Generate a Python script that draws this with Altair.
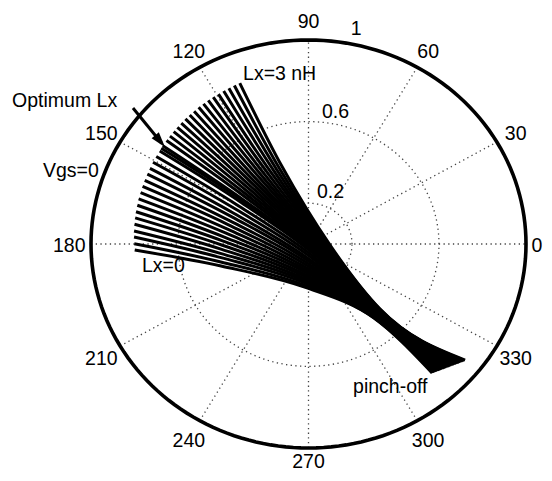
import altair as alt
import pandas as pd

# ---------------- data: reflection coefficient (re, im) traces, one per Lx step
# (Lx = 0 first, Lx = 3 nH last); points: Vgs=0 end, two mid points, waist, pinch-off end
s_re = [-0.799,-0.801,-0.802,-0.802,-0.800,-0.797,-0.793,-0.787,-0.781,-0.772,-0.763,-0.753,-0.741,-0.729,-0.715,-0.700,-0.684,-0.677,-0.670,-0.653,-0.637,-0.620,-0.603,-0.585,-0.566,-0.546,-0.526,-0.505,-0.483,-0.461,-0.438,-0.414,-0.390,-0.366,-0.341,-0.316]
s_im = [-0.029,0.001,0.034,0.064,0.097,0.128,0.158,0.190,0.221,0.252,0.282,0.312,0.343,0.371,0.401,0.429,0.456,0.469,0.482,0.507,0.529,0.551,0.572,0.593,0.613,0.632,0.651,0.670,0.687,0.704,0.720,0.735,0.750,0.764,0.777,0.789]
a_re = [-0.402,-0.403,-0.402,-0.401,-0.399,-0.396,-0.392,-0.387,-0.382,-0.375,-0.368,-0.361,-0.352,-0.344,-0.334,-0.323,-0.311,-0.306,-0.304,-0.295,-0.287,-0.278,-0.269,-0.260,-0.250,-0.240,-0.230,-0.219,-0.208,-0.197,-0.185,-0.173,-0.160,-0.148,-0.136,-0.123]
a_im = [-0.108,-0.088,-0.067,-0.047,-0.026,-0.006,0.014,0.034,0.054,0.074,0.094,0.113,0.133,0.151,0.170,0.188,0.205,0.214,0.220,0.233,0.244,0.255,0.266,0.277,0.287,0.297,0.307,0.317,0.326,0.335,0.344,0.352,0.360,0.368,0.375,0.382]
b_re = [-0.014,-0.013,-0.011,-0.010,-0.008,-0.005,-0.002,0.001,0.004,0.008,0.012,0.017,0.022,0.026,0.032,0.038,0.044,0.047,0.047,0.050,0.053,0.055,0.058,0.061,0.064,0.067,0.070,0.073,0.076,0.079,0.083,0.087,0.090,0.093,0.097,0.100]
b_im = [-0.213,-0.204,-0.193,-0.184,-0.175,-0.165,-0.156,-0.146,-0.137,-0.128,-0.118,-0.109,-0.100,-0.092,-0.082,-0.074,-0.066,-0.062,-0.061,-0.057,-0.054,-0.051,-0.047,-0.044,-0.040,-0.038,-0.034,-0.031,-0.028,-0.025,-0.021,-0.019,-0.016,-0.013,-0.010,-0.007]
w_re = [0.301,0.302,0.303,0.303,0.304,0.305,0.306,0.307,0.307,0.308,0.309,0.310,0.311,0.311,0.312,0.313,0.314,0.315,0.315,0.316,0.317,0.318,0.319,0.319,0.320,0.321,0.322,0.323,0.323,0.324,0.325,0.326,0.327,0.327,0.328,0.329]
w_im = [-0.363,-0.362,-0.360,-0.359,-0.358,-0.357,-0.355,-0.354,-0.353,-0.352,-0.350,-0.349,-0.348,-0.347,-0.345,-0.344,-0.343,-0.342,-0.340,-0.339,-0.338,-0.337,-0.335,-0.334,-0.333,-0.332,-0.330,-0.329,-0.328,-0.327,-0.325,-0.324,-0.323,-0.322,-0.320,-0.319]
e_re = [0.568,0.572,0.577,0.581,0.585,0.590,0.594,0.598,0.603,0.607,0.611,0.616,0.620,0.624,0.629,0.633,0.637,0.642,0.646,0.651,0.655,0.659,0.664,0.668,0.672,0.677,0.681,0.685,0.690,0.694,0.698,0.703,0.707,0.711,0.716,0.720]
e_im = [-0.632,-0.630,-0.628,-0.627,-0.625,-0.623,-0.621,-0.619,-0.618,-0.616,-0.614,-0.612,-0.610,-0.609,-0.607,-0.605,-0.603,-0.601,-0.600,-0.598,-0.596,-0.594,-0.592,-0.591,-0.589,-0.587,-0.585,-0.583,-0.582,-0.580,-0.578,-0.576,-0.574,-0.573,-0.571,-0.569]

# polar grid ticks
ring_r = [0.2, 0.6]
spoke_deg = [0, 30, 60, 90, 120, 150]
angle_deg = [0, 30, 60, 90, 120, 150, 180, 210, 240, 270, 300, 330]
angle_txt = [str(a) for a in angle_deg]
rtick_txt = ["0.2", "0.6", "1"]

# annotations
notes_txt = ["Optimum Lx", "Vgs=0", "Lx=3 nH", "Lx=0", "pinch-off"]

# ---------------- build tables
rows = []
pts = [(s_re, s_im), (a_re, a_im), (b_re, b_im), (w_re, w_im), (e_re, e_im)]
for k in range(len(s_re)):
    for j, (xr, xi) in enumerate(pts):
        rows.append({"lx": k, "o": j, "re": xr[k], "im": xi[k]})
curves = pd.DataFrame(rows)

XS = alt.Scale(domain=[-1.38161, 1.08276], nice=False, zero=False)
YS = alt.Scale(domain=[-1.12255, 1.15686], nice=False, zero=False)
FONT = "Liberation Sans"
FS = 19.5


def X(f):
    return alt.X(f, scale=XS, axis=None)


def Y(f):
    return alt.Y(f, scale=YS, axis=None)


def ring(r, dash=None, width=1.3, color="#444"):
    kw = dict(strokeWidth=width, color=color)
    if dash:
        kw["strokeDash"] = dash
    return (
        alt.Chart(alt.sequence(0, 361, 2, as_="deg"))
        .transform_calculate(
            x=f"{r}*cos(datum.deg*PI/180)", y=f"{r}*sin(datum.deg*PI/180)"
        )
        .mark_line(**kw)
        .encode(x=X("x:Q"), y=Y("y:Q"), order="deg:Q")
    )


layers = [ring(r, dash=[1.3, 3.4]) for r in ring_r]

spokes = (
    alt.Chart(pd.DataFrame({"a": spoke_deg}))
    .transform_calculate(
        x="-cos(datum.a*PI/180)", x2="cos(datum.a*PI/180)",
        y="-sin(datum.a*PI/180)", y2="sin(datum.a*PI/180)",
    )
    .mark_rule(strokeDash=[1.3, 3.4], strokeWidth=1.3, color="#444")
    .encode(x=X("x:Q"), x2="x2:Q", y=Y("y:Q"), y2="y2:Q")
)
layers.append(spokes)
layers.append(ring(1.0, width=3.6, color="black"))

traces = (
    alt.Chart(curves)
    .mark_line(interpolate="monotone", strokeWidth=3.0, color="black", strokeCap="butt")
    .encode(x=X("re:Q"), y=Y("im:Q"), detail="lx:N", order="o:Q")
)
layers.append(traces)

# arrow pointing at optimum Lx trace
arrow = (
    alt.Chart(pd.DataFrame({"re": [-0.807, -0.675], "im": [0.667, 0.494]}))
    .mark_line(strokeWidth=3, color="black")
    .encode(x=X("re:Q"), y=Y("im:Q"))
)
head = (
    alt.Chart(pd.DataFrame({"re": [-0.682], "im": [0.504]}))
    .mark_point(shape="M-0.6,1L0,-1L0.6,1Z", size=240, angle=140.5,
                filled=True, color="black", opacity=1)
    .encode(x=X("re:Q"), y=Y("im:Q"))
)
layers += [arrow, head]

# angle labels (label radius per label; 0 and 270 are kept inside the page edge)
label_r = [1.05, 1.1, 1.1, 1.1, 1.1, 1.1, 1.1, 1.1, 1.1, 1.055, 1.1, 1.1]
alab = (
    alt.Chart(pd.DataFrame({"a": angle_deg, "t": angle_txt, "r": label_r}))
    .transform_calculate(x="datum.r*cos(datum.a*PI/180)", y="datum.r*sin(datum.a*PI/180)")
    .mark_text(font=FONT, fontSize=FS, align="center", baseline="alphabetic", dy=8.5, color="black")
    .encode(x=X("x:Q"), y=Y("y:Q"), text="t:N")
)
layers.append(alab)

# radial labels
rlab = (
    alt.Chart(pd.DataFrame({"t": rtick_txt, "x": [0.039, 0.062, 0.194], "y": [0.224, 0.618, 1.025]}))
    .mark_text(font=FONT, fontSize=FS, align="left", baseline="alphabetic", color="black")
    .encode(x=X("x:Q"), y=Y("y:Q"), text="t:N")
)
layers.append(rlab)

notes = (
    alt.Chart(pd.DataFrame({
        "t": notes_txt,
        "x": [-1.363, -1.221, -0.301, -0.766, 0.205],
        "y": [0.670, 0.328, 0.804, -0.136, -0.730],
    }))
    .mark_text(font=FONT, fontSize=FS, align="left", baseline="alphabetic", color="black")
    .encode(x=X("x:Q"), y=Y("y:Q"), text="t:N")
)
layers.append(notes)

chart = (
    alt.layer(*layers)
    .properties(width=536, height=465, padding=0, autosize=alt.AutoSizeParams(type="none"),
                background="white")
    .configure_view(stroke=None)
)

chart.save("out.html", embed_options={"renderer": "svg", "actions": False})
